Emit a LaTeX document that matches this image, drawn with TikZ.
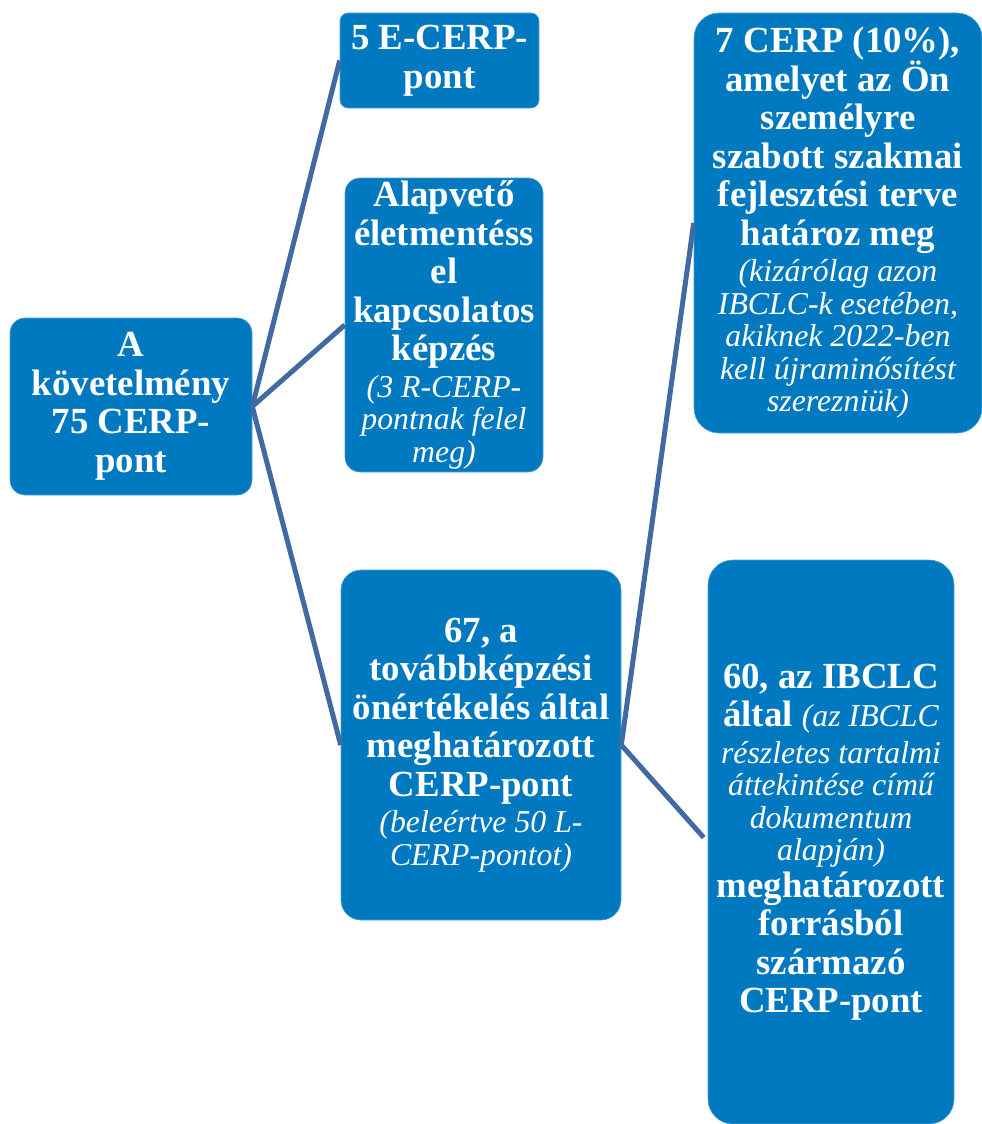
\documentclass[tikz,border=0pt]{standalone}
\usepackage{fontspec}
\setmainfont{Liberation Serif}
\definecolor{boxblue}{RGB}{0,121,193}
\definecolor{lineblue}{RGB}{66,106,162}
\newcommand{\bigtxt}{\fontsize{36.8}{38.5}\selectfont\bfseries}
\newcommand{\notetxt}{\fontsize{31.8}{32.5}\selectfont\itshape\mdseries}
\newcommand{\tonote}{\\[-2pt]}
\newcommand{\innote}{\\[-6pt]}
\begin{document}
\begin{tikzpicture}[x=1pt,y=-1pt,
	box/.style={rectangle, rounded corners=#1, fill=boxblue, draw=boxblue!70!white, line width=0.6pt, text=white, align=center, inner sep=0pt, font=\bigtxt},
	box/.default=15pt,
	link/.style={draw=lineblue, line width=5pt}]
	\useasboundingbox (0,0) rectangle (982,1124);
	\node (A)  at (131, 406.5)	[box, minimum width=242pt, minimum height=177pt]	{A\\követelmény\\75 CERP-\\pont};
	\node (E)  at (439.5, 60.5)	[box=8pt, minimum width=199pt, minimum height=95pt]	{5 E-CERP-\\pont};
	\node (R)  at (444, 325)	[box, minimum width=198pt, minimum height=294pt]	{Alapvető\\életmentéss\\el\\kapcsolatos\\képzés\tonote{\notetxt (3 R-CERP-}\innote{\notetxt pontnak felel}\innote{\notetxt meg)}};
	\node (L)  at (481, 745)	[box=20pt, minimum width=280pt, minimum height=350pt]	{67, a\\továbbképzési\\önértékelés által\\meghatározott\\CERP-pont\tonote{\notetxt (beleértve 50 L-}\innote{\notetxt CERP-pontot)}};
	\node (S)  at (838, 223)	[box=25pt, minimum width=288pt, minimum height=420pt]	{7 CERP (10\%),\\amelyet az Ön\\személyre\\szabott szakmai\\fejlesztési terve\\határoz meg\tonote{\notetxt (kizárólag azon}\innote{\notetxt IBCLC-k esetében,}\innote{\notetxt akiknek 2022-ben}\innote{\notetxt kell újraminősítést}\innote{\notetxt szerezniük)}};
	\node (I)  at (831, 842)	[box=25pt, minimum width=246pt, minimum height=564pt]	{60, az IBCLC\\által {\notetxt (az IBCLC}\tonote{\notetxt részletes tartalmi}\innote{\notetxt áttekintése című}\innote{\notetxt dokumentum}\innote{\notetxt alapján)}\tonote meghatározott\\forrásból\\származó\\CERP-pont};
	% branches
	\draw[link] (A.east) -- (E.west);
	\draw[link] (A.east) -- (R.west);
	\draw[link] (A.east) -- (L.west);
	\draw[link] (L.east) -- (S.west);
	\draw[link, shorten >=6pt] (L.east) -- (I.west);
\end{tikzpicture}
\end{document}
